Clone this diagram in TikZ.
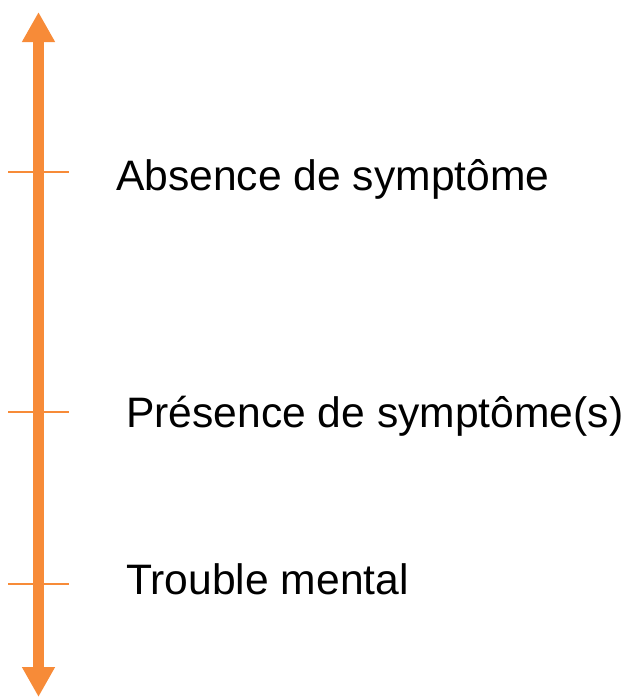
\documentclass[tikz,border=0pt]{standalone}
\usepackage{fontspec}
\setmainfont{Liberation Sans}
\usetikzlibrary{arrows.meta}
\definecolor{axisorange}{RGB}{247,139,56}
\begin{document}
\begin{tikzpicture}[x=1pt,y=-1pt,
  axisline/.style={draw=axisorange,line width=10.5pt,{Triangle[width=31pt,length=30pt]}-{Triangle[width=31pt,length=30pt]}},
  tickline/.style={draw=axisorange,line width=2pt},
  label/.style={anchor=base west,inner sep=0pt,font=\fontsize{42.6}{50}\selectfont,text=black}]
\useasboundingbox (0,0) rectangle (625,697);
\coordinate (top) at (38.5,12);
\coordinate (bottom) at (38.5,697);
\draw[axisline] (bottom) -- (top);
\coordinate (t1a) at (8,172);  \coordinate (t1b) at (69,172);
\coordinate (t2a) at (8,412);  \coordinate (t2b) at (69,412);
\coordinate (t3a) at (8,584);  \coordinate (t3b) at (69,584);
\draw[tickline] (t1a) -- (t1b);
\draw[tickline] (t2a) -- (t2b);
\draw[tickline] (t3a) -- (t3b);
\node[label] (l1) at (116,190) {Absence de symptôme};
\node[label] (l2) at (126,427) {Présence de symptôme(s)};
\node[label] (l3) at (126,594) {Trouble mental};
\end{tikzpicture}
\end{document}
